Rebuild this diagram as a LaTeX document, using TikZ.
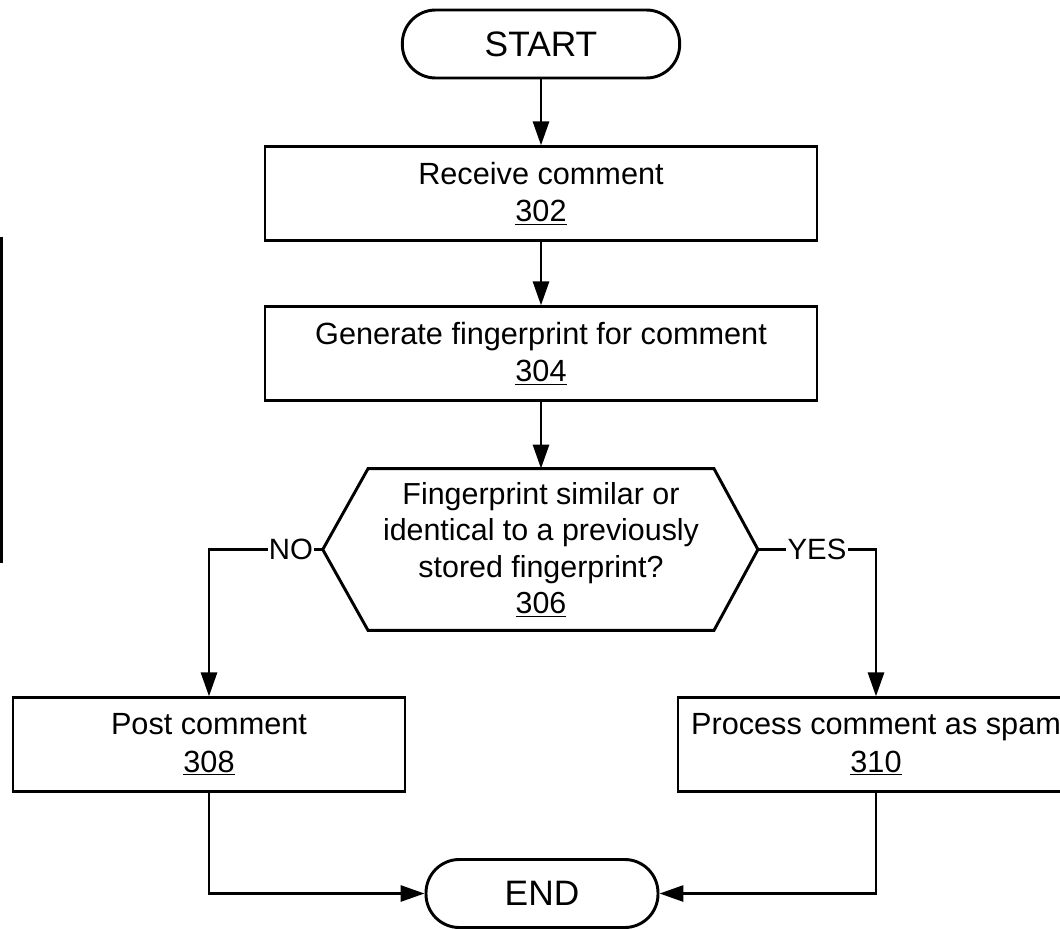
\documentclass[tikz,border=0pt]{standalone}
\usepackage{fontspec}
\setmainfont{Liberation Sans}
\usetikzlibrary{arrows.meta}
\tikzset{stage/.style={draw,line width=2.2pt,minimum height=70pt,align=center,font=\fontsize{23}{28}\selectfont},
term/.style={draw,line width=2.2pt,rounded corners=25pt,minimum height=51pt,font=\fontsize{26.5}{30}\selectfont},
arr/.style={-{Triangle[length=18pt,width=12pt]},line width=2.2pt},
answer/.style={fill=white,inner sep=1pt,font=\fontsize{22}{25}\selectfont}}

\begin{document}
\begin{tikzpicture}[x=0.75pt,y=-0.75pt]
                  \useasboundingbox (0,0) rectangle (1060,928);
                  \node[term,minimum width=208pt] (start) at (541,44) {START};
                  \node[stage,minimum width=414pt] (recv) at (541,193.5) {Receive comment\\\underline{302}};
                  \node[stage,minimum width=414pt] (fprint) at (541,353.5) {Generate fingerprint for comment\\\underline{304}};
                  \node[minimum width=259pt,minimum height=121pt,inner sep=0pt,align=center,font=\fontsize{22.8}{27.4}\selectfont] (check) at (541,549.5) {Fingerprint similar or\\identical to a previously\\stored fingerprint?\\\underline{306}};
                  \coordinate (checkL) at ([xshift=-34pt]check.west);
                  \coordinate (checkR) at ([xshift=33pt]check.east);
                  \draw[line width=2.2pt,line join=miter] (check.north west) -- (check.north east) -- (checkR) -- (check.south east) -- (check.south west) -- (checkL) -- cycle;
                  \node[stage,minimum width=294pt] (post) at (209,744.5) {Post comment\\\underline{308}};
                  \node[stage,minimum width=297pt] (spam) at (876,744.5) {Process comment as spam\\\underline{310}};
                  \node[term,minimum width=174pt] (finish) at (542,893.5) {END};
                  \draw[arr] (start) -- (recv);
                  \draw[arr] (recv) -- (fprint);
                  \draw[arr] (fprint) -- (check);
                  \draw[arr] (checkL) -| node[answer,pos=0.14] {NO} (post);
                  \draw[arr] (checkR) -| node[answer,pos=0.25] {YES} (spam);
                  \draw[arr] (post) |- (finish);
                  \draw[arr] (spam) |- (finish);
                  \draw[line width=1.5pt] (1.5,237) -- (1.5,563);
              \end{tikzpicture}
\end{document}
